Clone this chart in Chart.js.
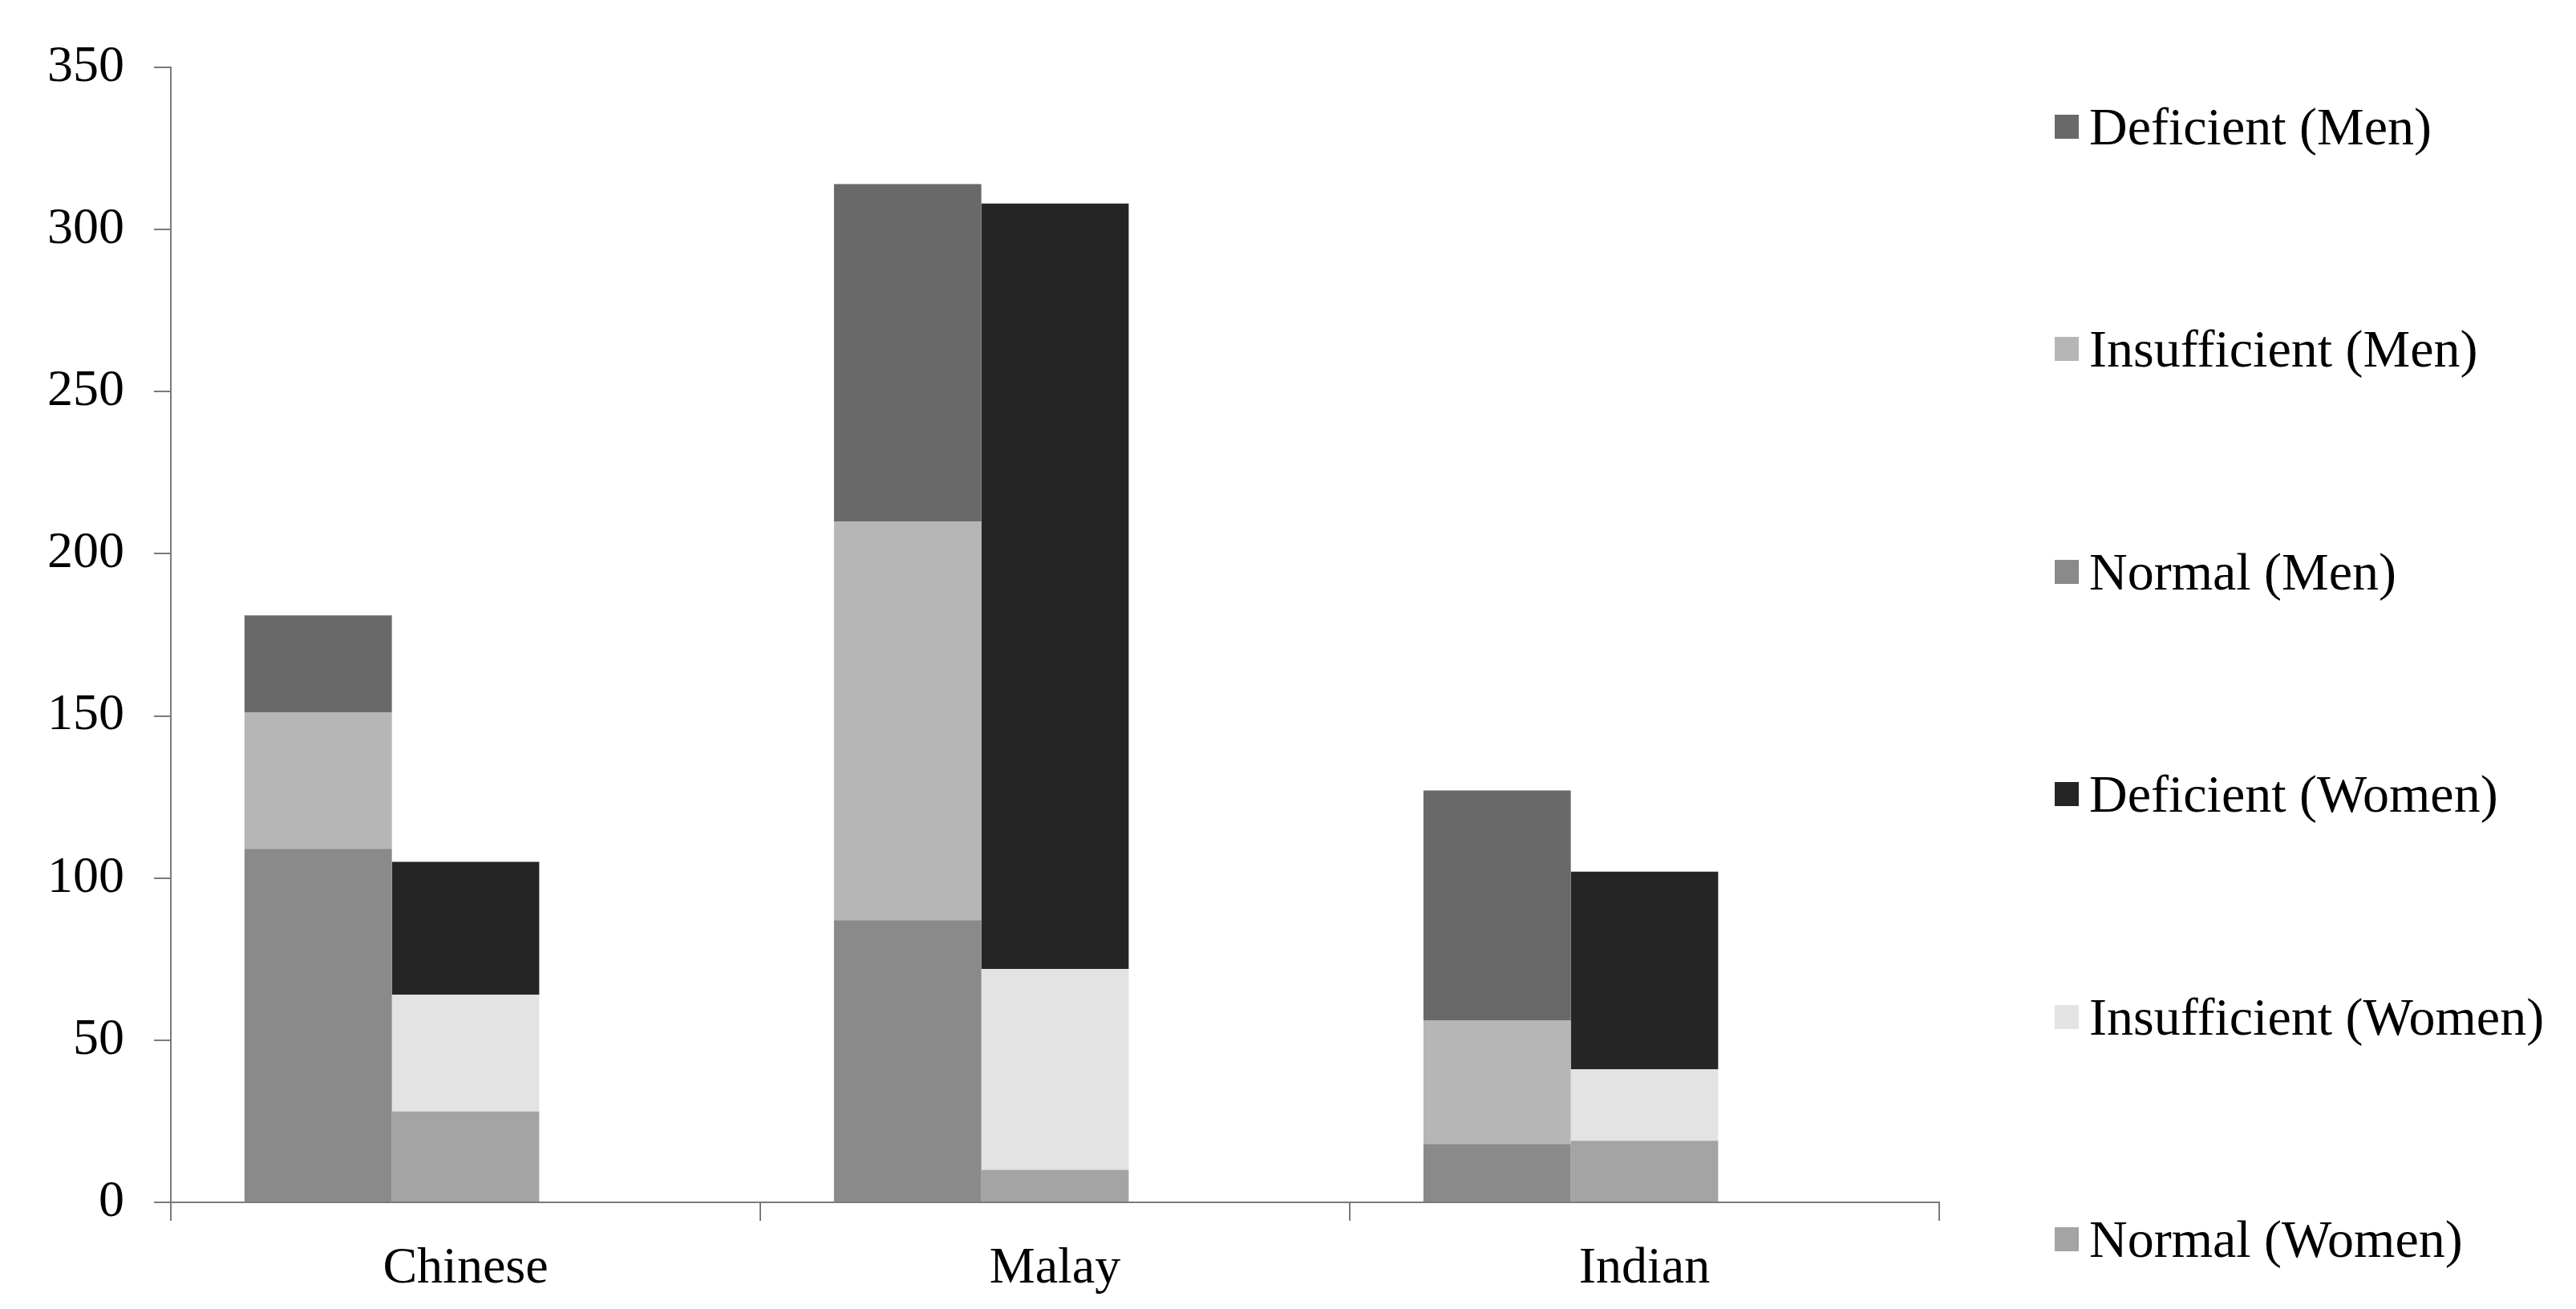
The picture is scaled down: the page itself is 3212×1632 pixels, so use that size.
<!DOCTYPE html>
<html>
<head>
<meta charset="utf-8">
<script src="https://cdn.jsdelivr.net/npm/chart.js@4"></script>
<style>
  html, body { margin: 0; padding: 0; background: #fff; }
  #wrap { position: relative; width: 3212px; height: 1632px; }
  #legend {
    position: absolute; left: 2562px; top: 0;
    font-family: "Liberation Serif", "Times New Roman", serif;
    font-size: 66px; color: #000;
  }
  .item { position: absolute; left: 0; height: 70px; display: flex; align-items: center; white-space: nowrap; }
  .box { width: 30px; height: 30px; margin-right: 13px; }
</style>
</head>
<body>
<div id="wrap">
  <canvas id="chart" width="3212" height="1632"></canvas>
  <div id="legend"></div>
</div>
<script>
const categories = ['Chinese', 'Malay', 'Indian'];

// men stack (bottom to top)
const normalMen = [109, 87, 18];
const insufficientMen = [42, 123, 38];
const deficientMen = [30, 104, 71];

// women stack (bottom to top)
const normalWomen = [28, 10, 19];
const insufficientWomen = [36, 62, 22];
const deficientWomen = [41, 236, 61];

// empty third slot, the original leaves room for it in each group
const spacer = [0, 0, 0];

const yMax = 350;
const yStep = 50;

const serif = '"Liberation Serif", "Times New Roman", serif';
const axisColor = '#7a7a7a';

const datasets = [
  { label: 'Normal (Men)', data: normalMen, stack: 'men', backgroundColor: '#8a8a8a' },
  { label: 'Insufficient (Men)', data: insufficientMen, stack: 'men', backgroundColor: '#b6b6b6' },
  { label: 'Deficient (Men)', data: deficientMen, stack: 'men', backgroundColor: '#696969' },
  { label: 'Normal (Women)', data: normalWomen, stack: 'women', backgroundColor: '#a4a4a4' },
  { label: 'Insufficient (Women)', data: insufficientWomen, stack: 'women', backgroundColor: '#e3e3e3' },
  { label: 'Deficient (Women)', data: deficientWomen, stack: 'women', backgroundColor: '#252525' },
  { label: '', data: spacer, stack: 'spacer', backgroundColor: 'transparent' }
];

const legendOrder = [
  'Deficient (Men)', 'Insufficient (Men)', 'Normal (Men)',
  'Deficient (Women)', 'Insufficient (Women)', 'Normal (Women)'
];

new Chart(document.getElementById('chart'), {
  type: 'bar',
  data: { labels: categories, datasets: datasets },
  options: {
    responsive: false,
    animation: false,
    layout: { padding: { top: 84, right: 794, left: 0, bottom: 0 } },
    datasets: { bar: { categoryPercentage: 0.75, barPercentage: 1.0, borderWidth: 0 } },
    plugins: {
      legend: { display: false },
      tooltip: { enabled: false }
    },
    scales: {
      x: {
        stacked: true,
        grid: { drawOnChartArea: false, tickLength: 23, color: axisColor, lineWidth: 2 },
        border: { color: axisColor, width: 2 },
        ticks: { color: '#000', padding: 22, maxRotation: 0, font: { family: serif, size: 64 } },
        afterFit: scale => { scale.height = 133; }
      },
      y: {
        stacked: true,
        min: 0,
        max: yMax,
        grid: { drawOnChartArea: false, tickLength: 21, color: axisColor, lineWidth: 2 },
        border: { color: axisColor, width: 2 },
        ticks: { stepSize: yStep, color: '#000', padding: 37, font: { family: serif, size: 64 } },
        afterFit: scale => { scale.width = 213; }
      }
    }
  }
});

// legend drawn as html, one item per row like the original
const legend = document.getElementById('legend');
legendOrder.forEach((name, i) => {
  const ds = datasets.find(d => d.label === name);
  const item = document.createElement('div');
  item.className = 'item';
  item.style.top = (158 + i * 277.4 - 35) + 'px';
  const box = document.createElement('span');
  box.className = 'box';
  box.style.background = ds.backgroundColor;
  const text = document.createElement('span');
  text.textContent = name;
  item.appendChild(box);
  item.appendChild(text);
  legend.appendChild(item);
});
</script>
</body>
</html>
